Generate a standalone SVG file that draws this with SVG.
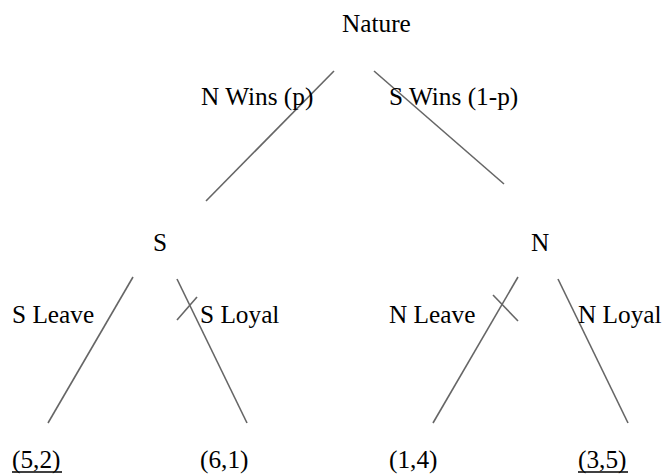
<svg xmlns="http://www.w3.org/2000/svg" width="666" height="474" viewBox="0 0 666 474">
<style>
line{stroke:#666;stroke-width:1.6;fill:none}
.ul{stroke:#000;stroke-width:1.4}
</style>
<rect width="666" height="474" fill="#fff"/>
<g id="connectors">
<line x1="334" y1="71" x2="206" y2="201"/>
<line x1="374" y1="71" x2="504" y2="184"/>
<line x1="133" y1="277" x2="48" y2="423"/>
<line x1="177" y1="279" x2="247" y2="423"/>
<line x1="177" y1="320" x2="197" y2="297"/>
<line x1="518" y1="277" x2="433" y2="423"/>
<line x1="493" y1="295" x2="518" y2="321"/>
<line x1="558" y1="279" x2="628" y2="423"/>
</g>
<g font-family="Liberation Serif, Times New Roman, serif" font-size="25.3" fill="#000">
<g id="nature"><text x="342" y="32">Nature</text></g>
<g id="label-nwins"><text x="201" y="105">N Wins (p)</text></g>
<g id="label-swins"><text x="389" y="105">S Wins (1-p)</text></g>
<g id="node-s"><text x="153" y="251">S</text></g>
<g id="node-n"><text x="531" y="251">N</text></g>
<g id="label-sleave"><text x="12" y="323">S Leave</text></g>
<g id="label-sloyal"><text x="200" y="323">S Loyal</text></g>
<g id="label-nleave"><text x="389" y="323">N Leave</text></g>
<g id="label-nloyal"><text x="578" y="323">N Loyal</text></g>
<g id="payoff-52"><text x="12" y="468">(5,2)</text><line class="ul" x1="12" y1="472" x2="62" y2="472"/></g>
<g id="payoff-61"><text x="200" y="468">(6,1)</text></g>
<g id="payoff-14"><text x="389" y="468">(1,4)</text></g>
<g id="payoff-35"><text x="578" y="468">(3,5)</text><line class="ul" x1="578" y1="472" x2="628" y2="472"/></g>
</g>
</svg>
